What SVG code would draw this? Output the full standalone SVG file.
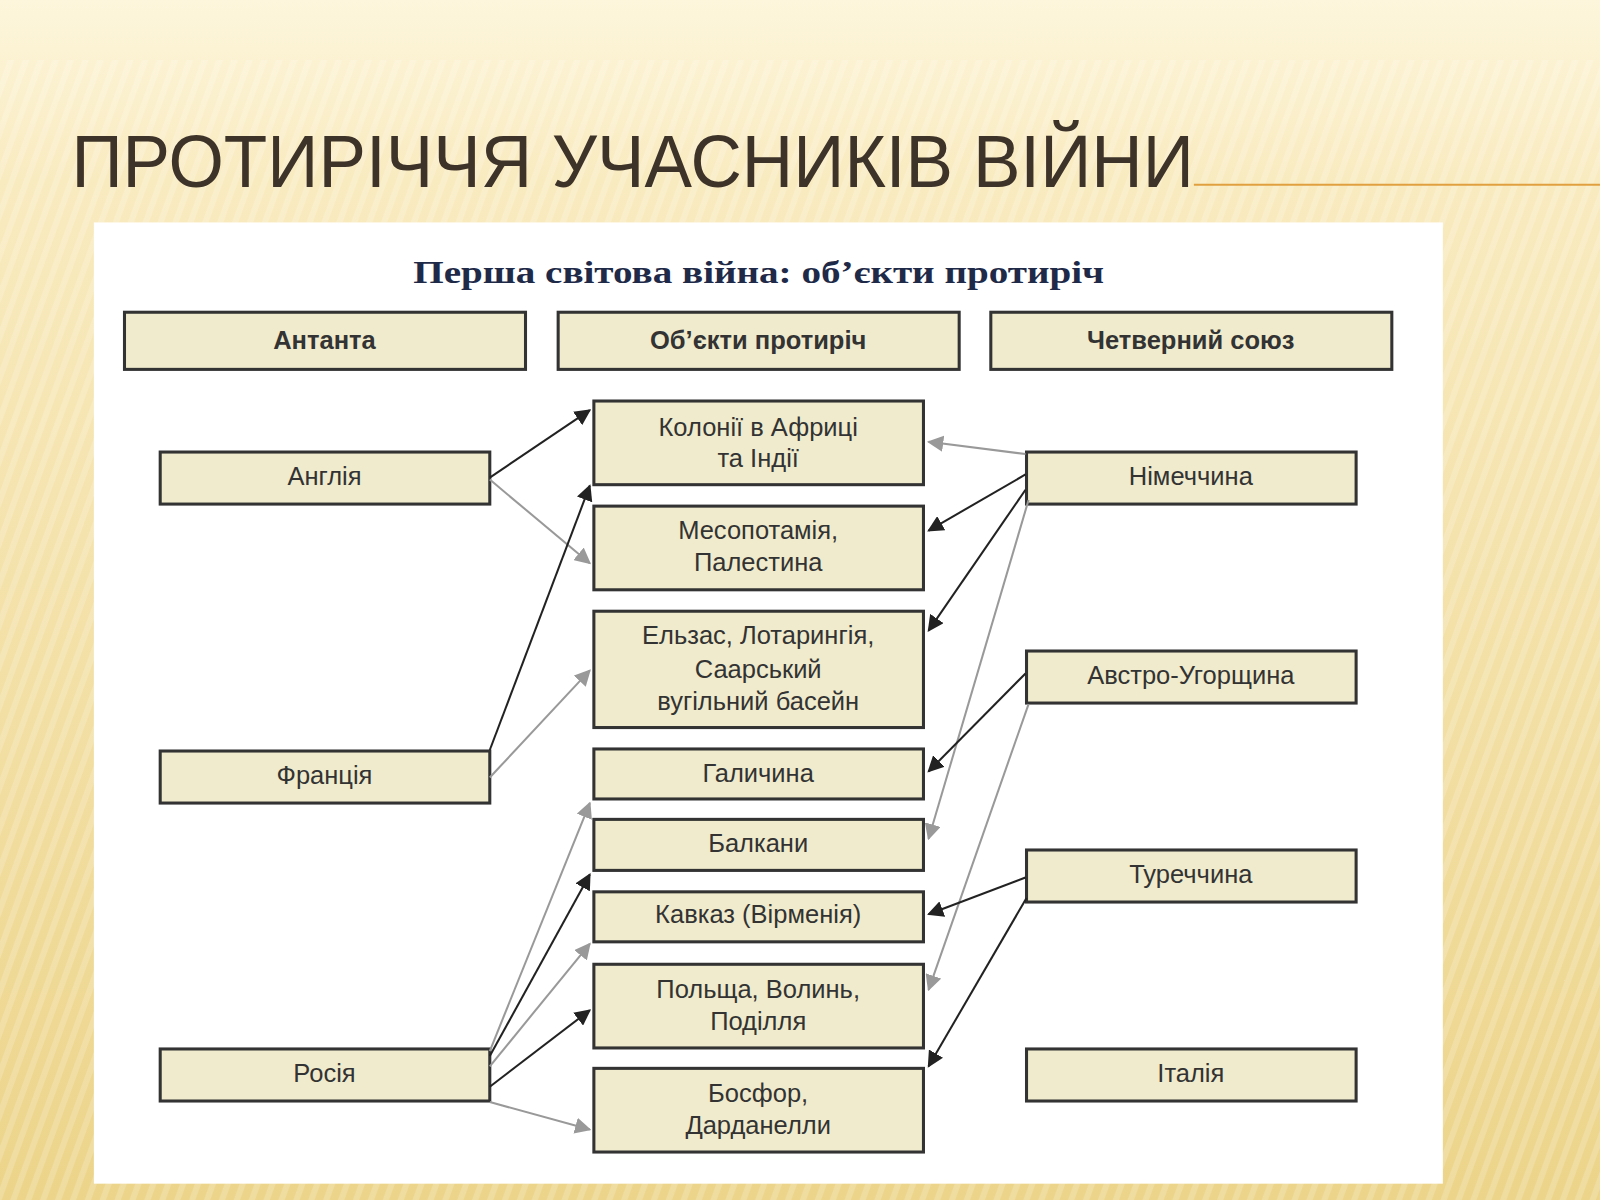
<svg xmlns="http://www.w3.org/2000/svg" width="1600" height="1200" viewBox="0 0 1600 1200">
<defs>
<linearGradient id="bg" x1="0" y1="0" x2="0" y2="1"><stop offset="0" stop-color="#fdf6dc"/><stop offset="0.15" stop-color="#f9ebc0"/><stop offset="1" stop-color="#ecd48a"/></linearGradient>
<pattern id="str" width="14" height="40" patternUnits="userSpaceOnUse" patternTransform="rotate(20)"><rect width="6" height="40" fill="#fff" opacity="0.18"/></pattern>
<marker id="ab" viewBox="0 0 10 10" refX="9" refY="5" markerWidth="8" markerHeight="8" orient="auto"><path d="M0,0 L10,5 L0,10 z" fill="#222"/></marker>
<marker id="ag" viewBox="0 0 10 10" refX="9" refY="5" markerWidth="8" markerHeight="8" orient="auto"><path d="M0,0 L10,5 L0,10 z" fill="#999"/></marker>
</defs>
<style>
.b{fill:#efebcc;stroke:#333;stroke-width:3}
.t{font-family:"Liberation Sans",Arial,sans-serif;font-size:25px;fill:#333;text-anchor:middle}
.h{font-weight:bold}
.k{stroke:#222;stroke-width:2;marker-end:url(#ab);fill:none}
.g{stroke:#999;stroke-width:2;marker-end:url(#ag);fill:none}
</style>
<rect width="1600" height="1200" fill="url(#bg)"/>
<rect y="60" width="1600" height="1140" fill="url(#str)"/>
<g transform="scale(1.0204)">
<text x="70" y="183" font-family="Liberation Sans,Arial,sans-serif" font-size="72" fill="#3e3328" textLength="1100" lengthAdjust="spacingAndGlyphs">ПРОТИРІЧЧЯ УЧАСНИКІВ ВІЙНИ</text>
<line x1="1170" y1="181" x2="1568" y2="181" stroke="#e0a040" stroke-width="2"/>
<rect x="92" y="218" width="1322" height="942" fill="#fff"/>
<text x="405" y="277" font-family="Liberation Serif,serif" font-weight="bold" font-size="30" fill="#1e2a48" textLength="677" lengthAdjust="spacingAndGlyphs">Перша світова війна: об’єкти протиріч</text>
<g id="h1"><rect class="b" x="122" y="306" width="393" height="56"/><text class="t h" x="318" y="342">Антанта</text></g>
<g id="h2"><rect class="b" x="547" y="306" width="393" height="56"/><text class="t h" x="743" y="342">Об’єкти протиріч</text></g>
<g id="h3"><rect class="b" x="971" y="306" width="393" height="56"/><text class="t h" x="1167" y="342">Четверний союз</text></g>
<g id="l1"><rect class="b" x="157" y="443" width="323" height="51"/><text class="t" x="318" y="475">Англія</text></g>
<g id="l2"><rect class="b" x="157" y="736" width="323" height="51"/><text class="t" x="318" y="768">Франція</text></g>
<g id="l3"><rect class="b" x="157" y="1028" width="323" height="51"/><text class="t" x="318" y="1060">Росія</text></g>
<g id="m1"><rect class="b" x="582" y="393" width="323" height="82"/><text class="t" x="743" y="427">Колонії в Африці</text><text class="t" x="743" y="458">та Індії</text></g>
<g id="m2"><rect class="b" x="582" y="496" width="323" height="82"/><text class="t" x="743" y="528">Месопотамія,</text><text class="t" x="743" y="560">Палестина</text></g>
<g id="m3"><rect class="b" x="582" y="599" width="323" height="114"/><text class="t" x="743" y="631">Ельзас, Лотарингія,</text><text class="t" x="743" y="664">Саарський</text><text class="t" x="743" y="696">вугільний басейн</text></g>
<g id="m4"><rect class="b" x="582" y="734" width="323" height="49"/><text class="t" x="743" y="766">Галичина</text></g>
<g id="m5"><rect class="b" x="582" y="803" width="323" height="50"/><text class="t" x="743" y="835">Балкани</text></g>
<g id="m6"><rect class="b" x="582" y="874" width="323" height="49"/><text class="t" x="743" y="905">Кавказ (Вірменія)</text></g>
<g id="m7"><rect class="b" x="582" y="945" width="323" height="82"/><text class="t" x="743" y="978">Польща, Волинь,</text><text class="t" x="743" y="1009">Поділля</text></g>
<g id="m8"><rect class="b" x="582" y="1047" width="323" height="82"/><text class="t" x="743" y="1080">Босфор,</text><text class="t" x="743" y="1111">Дарданелли</text></g>
<g id="r1"><rect class="b" x="1006" y="443" width="323" height="51"/><text class="t" x="1167" y="475">Німеччина</text></g>
<g id="r2"><rect class="b" x="1006" y="638" width="323" height="51"/><text class="t" x="1167" y="670">Австро-Угорщина</text></g>
<g id="r3"><rect class="b" x="1006" y="833" width="323" height="51"/><text class="t" x="1167" y="865">Туреччина</text></g>
<g id="r4"><rect class="b" x="1006" y="1028" width="323" height="51"/><text class="t" x="1167" y="1060">Італія</text></g>
<g id="connectors">
<line class="k" x1="480" y1="468" x2="578" y2="402"/>
<line class="g" x1="480" y1="470" x2="578" y2="552"/>
<line class="k" x1="480" y1="735" x2="578" y2="476"/>
<line class="g" x1="480" y1="762" x2="578" y2="657"/>
<line class="g" x1="480" y1="1030" x2="578" y2="787"/>
<line class="k" x1="480" y1="1035" x2="578" y2="857"/>
<line class="g" x1="480" y1="1045" x2="578" y2="925"/>
<line class="k" x1="480" y1="1065" x2="578" y2="990"/>
<line class="g" x1="480" y1="1080" x2="578" y2="1107"/>
<line class="g" x1="1005" y1="445" x2="910" y2="433"/>
<line class="k" x1="1005" y1="465" x2="910" y2="520"/>
<line class="k" x1="1005" y1="480" x2="910" y2="618"/>
<line class="g" x1="1008" y1="490" x2="910" y2="822"/>
<line class="k" x1="1005" y1="660" x2="910" y2="756"/>
<line class="g" x1="1008" y1="690" x2="910" y2="970"/>
<line class="k" x1="1005" y1="860" x2="910" y2="896"/>
<line class="k" x1="1006" y1="880" x2="910" y2="1045"/>
</g>
</g>
</svg>
